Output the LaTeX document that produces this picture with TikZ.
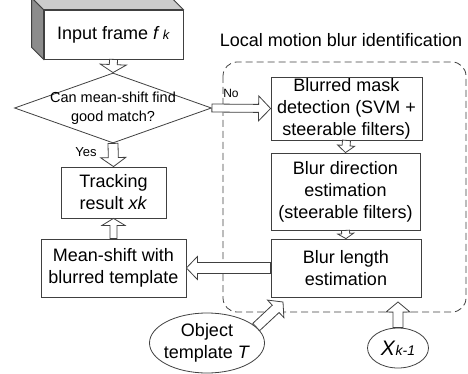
\documentclass[tikz,border=0pt]{standalone}
\usepackage{fontspec}
\setmainfont{Liberation Sans}
\usetikzlibrary{calc,shapes.geometric}

\colorlet{linecol}{black!75}
\newcommand\boxfont{\fontsize{18}{22}\selectfont}
\newcommand\arrshaft{4pt}
\newcommand\arrhead{12pt}
\newcommand\arrlen{9pt}

\tikzset{
  box/.style={draw=linecol, fill=white, line width=0.8pt, inner sep=1pt, align=center, font=\boxfont},
  oval/.style={box, ellipse, inner sep=0pt},
  decision/.style={draw=linecol, fill=white, line width=0.8pt, diamond, inner sep=0pt},
  arrshaft/.code={\def\arrshaft{#1}},
  arrhead/.code={\def\arrhead{#1}},
  arrlen/.code={\def\arrlen{#1}},
  hollow/.style={draw=linecol, fill=white, line width=0.8pt, line join=miter,
    to path={let \p1=(\tikztostart), \p2=(\tikztotarget),
      \n1={atan2(\y2-\y1,\x2-\x1)}, \n2={veclen(\x2-\x1,\y2-\y1)-\arrlen} in
      ($(\p1)+(\n1+90:\arrshaft)$) -- ($(\p1)+(\n1:\n2)+(\n1+90:\arrshaft)$)
      -- ($(\p1)+(\n1:\n2)+(\n1+90:\arrhead)$) -- (\p2)
      -- ($(\p1)+(\n1:\n2)+(\n1-90:\arrhead)$) -- ($(\p1)+(\n1:\n2)+(\n1-90:\arrshaft)$)
      -- ($(\p1)+(\n1-90:\arrshaft)$) -- cycle}}
}

\begin{document}
\begin{tikzpicture}[x=1pt, y=-1pt]
    \useasboundingbox (0,0) rectangle (468,374);

    % blur identification region
    \draw[linecol, line width=0.8pt, dash pattern=on 7pt off 4pt, rounded corners=14pt] (223,62) rectangle (466,312);
    \node[font=\boxfont] (title) at (341,40) {Local motion blur identification};

    % left column
    \node[box, minimum width=139pt, minimum height=49pt] (input) at (113.5,34.5)
        {Input frame \textit{f}\,{\fontsize{13}{13}\selectfont\textit{k}}};
    \filldraw[fill=black!45, draw=linecol, line width=0.8pt] (input.north west) -- ($(input.north west)+(-12,-12)$)
        -- ($(input.south west)+(-12,-12)$) -- (input.south west) -- cycle;
    \filldraw[fill=black!20, draw=linecol, line width=0.8pt] (input.north west) -- ($(input.north west)+(-12,-12)$)
        -- ($(input.north east)+(-12,-12)$) -- (input.north east) -- cycle;

    \node[decision, minimum width=197pt, minimum height=70pt,
          label={[align=center, font=\fontsize{14.5}{19}\selectfont]center:Can mean-shift find\\good match?}] (dec) at (113,108) {};
    \node[box, minimum width=105pt, minimum height=51pt] (track) at (113.5,192.5) {Tracking\\result \textit{xk}};
    \node[box, minimum width=145pt, minimum height=58pt] (mean) at (113.5,268) {Mean-shift with\\blurred template};

    % right column
    \node[box, minimum width=151pt, minimum height=63pt] (mask) at (346.5,108.5) {Blurred mask\\detection (SVM +\\steerable filters)};
    \node[box, minimum width=149pt, minimum height=77pt] (dir) at (345.5,191.5) {Blur direction\\estimation\\(steerable filters)};
    \node[box, minimum width=150pt, minimum height=58pt] (len) at (346,268) {Blur length\\estimation};

    % inputs
    \node[oval, inner xsep=-5pt, minimum width=115pt, minimum height=60pt] (objT) at (207,343) {Object\\template \textit{T}};
    \node[oval, minimum width=61pt, minimum height=40pt] (xk1) at (398,348)
        {\textit{\fontsize{21}{21}\selectfont X}{\fontsize{14}{14}\selectfont\textit{k-1}}};
    \coordinate (tipT) at (283,302);
    \coordinate (tipX) at (398,302);

    \node[font=\fontsize{12}{12}\selectfont] (no) at (231,93) {No};
    \node[font=\fontsize{13}{13}\selectfont] (yes) at (86,152) {Yes};

    % hollow arrows
    \draw[hollow, arrshaft=4pt, arrhead=13pt, arrlen=8pt] (input.south) to (dec.north);
    \draw[hollow, arrshaft=5pt, arrhead=12.5pt, arrlen=9pt] (dec.south) to (track.north);
    \draw[hollow, arrshaft=4pt, arrhead=12.5pt, arrlen=12pt] (dec.east) to (mask.west);
    \draw[hollow, arrshaft=4pt, arrhead=8.5pt, arrlen=7pt] (mask.south) to (dir.north);
    \draw[hollow, arrshaft=4pt, arrhead=8pt, arrlen=5pt] (dir.south) to (len.north);
    \draw[hollow, arrshaft=3.5pt, arrhead=11.5pt, arrlen=7pt] (mean.north) to (track.south);
    \draw[hollow, arrshaft=5.5pt, arrhead=11.5pt, arrlen=11pt] (len.west) to (mean.east);
    \draw[hollow, arrshaft=5pt, arrhead=12pt, arrlen=10pt] (objT.18) to (tipT);
    \draw[hollow, arrshaft=5pt, arrhead=12pt, arrlen=10pt] (xk1.north) to (tipX);
\end{tikzpicture}
\end{document}
